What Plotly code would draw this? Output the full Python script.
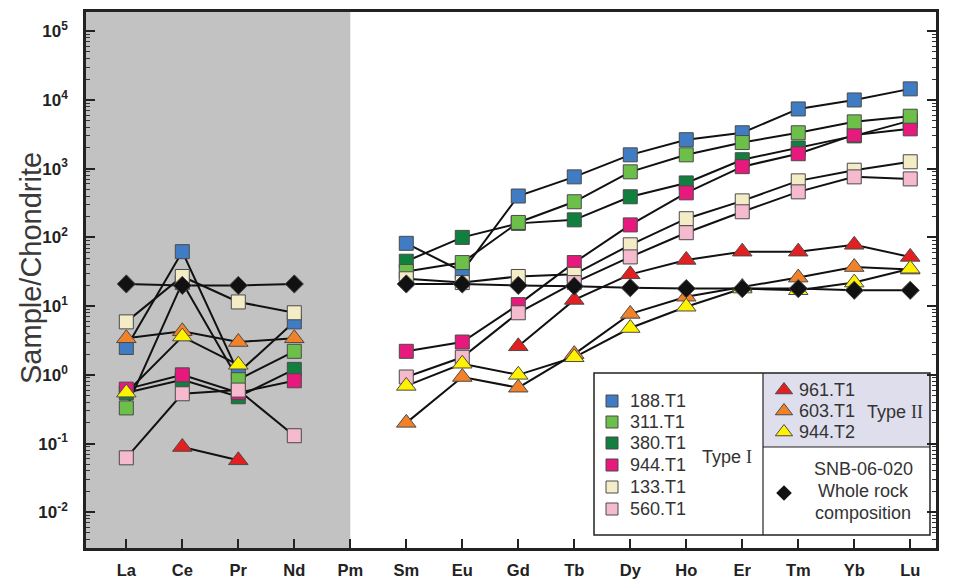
import plotly.graph_objects as go

elements = ["La", "Ce", "Pr", "Nd", "Pm", "Sm", "Eu", "Gd", "Tb", "Dy", "Ho", "Er", "Tm", "Yb", "Lu"]

s188_T1 = [2.5, 62, 1.07, 5.9, None, 82, 32, 400, 760, 1590, 2640, 3330, 7400, 10000, 14500]
s311_T1 = [0.33, 22, 0.85, 2.2, None, 32, 43, 165, 330, 900, 1590, 2400, 3330, 4800, 5800]
s380_T1 = [0.55, 0.85, 0.48, 1.2, None, 45, 100, 160, 180, 390, 620, 1350, 2000, 3000, 5000]
s944_T1 = [0.62, 1.0, 0.55, 0.82, None, 2.2, 3.0, 10.5, 43, 152, 445, 1070, 1650, 3100, 3800]
s133_T1 = [5.9, 27, 11.5, 8, None, 25, 22, 27, 29, 78, 187, 340, 665, 950, 1260]
s560_T1 = [0.062, 0.53, 0.6, 0.13, None, 0.93, 1.8, 8, 22, 52, 117, 236, 460, 760, 710]
s961_T1 = [None, 0.089, 0.057, None, None, None, None, 2.6, 12.3, 29, 47, 62, 62, 78, 52]
s603_T1 = [3.4, 4.3, 3.0, 3.4, None, 0.2, 0.93, 0.65, 2.0, 7.7, 13.7, 19, 26, 37, 34]
s944_T2 = [0.55, 3.6, 1.4, None, None, 0.69, 1.45, 1.0, 1.8, 4.8, 9.8, 18, 17, 22, 35]
whole_rock = [21, 20, 20, 21, None, 21, 21, 20, 19.5, 18.5, 18, 18, 18, 17, 17]

y_tick_vals = [1e-2, 1e-1, 1e0, 1e1, 1e2, 1e3, 1e4, 1e5]
y_tick_text = ["<b>10<sup>-2</sup></b>", "<b>10<sup>-1</sup></b>", "<b>10<sup>0</sup></b>",
               "<b>10<sup>1</sup></b>", "<b>10<sup>2</sup></b>", "<b>10<sup>3</sup></b>",
               "<b>10<sup>4</sup></b>", "<b>10<sup>5</sup></b>"]

series = [
    ("380.T1", s380_T1, "square", "#11803f", 14),
    ("944.T1", s944_T1, "square", "#e8197d", 14),
    ("188.T1", s188_T1, "square", "#3f7cc4", 14),
    ("311.T1", s311_T1, "square", "#6cc04a", 14),
    ("133.T1", s133_T1, "square", "#f3ecc6", 14),
    ("560.T1", s560_T1, "square", "#f5bacd", 14),
    ("961.T1", s961_T1, "triangle-up", "#e3201f", 17),
    ("603.T1", s603_T1, "triangle-up", "#f2822a", 17),
    ("944.T2", s944_T2, "triangle-up", "#fff200", 17),
    ("SNB-06-020", whole_rock, "diamond", "#111111", 14),
]

xs = list(range(len(elements)))
fig = go.Figure()

# lines first
for name, vals, sym, col, sz in series:
    fig.add_trace(go.Scatter(x=xs, y=vals, mode="lines", line=dict(color="#111111", width=2),
                             connectgaps=False, showlegend=False, hoverinfo="skip"))
# markers on top
for name, vals, sym, col, sz in series:
    fig.add_trace(go.Scatter(x=xs, y=vals, mode="markers", name=name,
                             marker=dict(symbol=sym, size=sz, color=col,
                                         line=dict(color="#4a4a4a", width=1)),
                             showlegend=False))

# Page body has an 8px margin; screen-pixel plot area below
OFF = 8
W, H = 954 - OFF, 579 - OFF
L = 86; R = 936; T = 12; B = 548

leg_sq = [("188.T1", "#3f7cc4", 401), ("311.T1", "#6cc04a", 422), ("380.T1", "#11803f", 443),
          ("944.T1", "#e8197d", 465), ("133.T1", "#f3ecc6", 487), ("560.T1", "#f5bacd", 509)]
leg_tri = [("961.T1", "#e3201f", 390), ("603.T1", "#f2822a", 411), ("944.T2", "#fff200", 432)]

fig.add_trace(go.Scatter(x=[612] * len(leg_sq), y=[r[2] for r in leg_sq], mode="markers",
                         xaxis="x2", yaxis="y2", showlegend=False, hoverinfo="skip",
                         marker=dict(symbol="square", size=12, color=[r[1] for r in leg_sq],
                                     line=dict(color="#4a4a4a", width=1))))
fig.add_trace(go.Scatter(x=[784] * len(leg_tri), y=[r[2] for r in leg_tri], mode="markers",
                         xaxis="x2", yaxis="y2", showlegend=False, hoverinfo="skip",
                         marker=dict(symbol="triangle-up", size=15, color=[r[1] for r in leg_tri],
                                     line=dict(color="#4a4a4a", width=1))))
fig.add_trace(go.Scatter(x=[784], y=[493], mode="markers", xaxis="x2", yaxis="y2",
                         showlegend=False, hoverinfo="skip",
                         marker=dict(symbol="diamond", size=12, color="#111111")))

shapes = [
    dict(type="rect", xref="x", yref="paper", x0=-0.72, x1=4, y0=0, y1=1,
         fillcolor="#c2c2c2", line=dict(width=0), layer="below"),
    dict(type="rect", xref="x2", yref="y2", x0=594, x1=930, y0=373, y1=535,
         fillcolor="white", line=dict(width=0), layer="below"),
    dict(type="rect", xref="x2", yref="y2", x0=763, x1=930, y0=373, y1=447,
         fillcolor="#dedeed", line=dict(width=0), layer="below"),
    dict(type="rect", xref="x2", yref="y2", x0=594, x1=930, y0=373, y1=535,
         fillcolor="rgba(0,0,0,0)", line=dict(color="#222222", width=1.5)),
    dict(type="line", xref="x2", yref="y2", x0=763, x1=763, y0=373, y1=535,
         line=dict(color="#222222", width=1.2)),
    dict(type="line", xref="x2", yref="y2", x0=763, x1=930, y0=447, y1=447,
         line=dict(color="#222222", width=1.2)),
]

font_leg = dict(family="Liberation Sans, Arial", size=18, color="#333333")
annotations = []
for name, col, yy in leg_sq:
    annotations.append(dict(x=628, y=yy, xref="x2", yref="y2", text=name, showarrow=False,
                            xanchor="left", yanchor="middle", font=font_leg))
for name, col, yy in leg_tri:
    annotations.append(dict(x=797, y=yy, xref="x2", yref="y2", text=name, showarrow=False,
                            xanchor="left", yanchor="middle", font=font_leg))
annotations += [
    dict(x=727, y=457, xref="x2", yref="y2", showarrow=False, font=font_leg,
         text="Type <span style='font-family:Liberation Serif'>I</span>"),
    dict(x=895, y=412, xref="x2", yref="y2", showarrow=False, font=font_leg,
         text="Type <span style='font-family:Liberation Serif'>II</span>"),
    dict(x=863, y=469, xref="x2", yref="y2", showarrow=False, font=font_leg, text="SNB-06-020"),
    dict(x=863, y=491, xref="x2", yref="y2", showarrow=False, font=font_leg, text="Whole rock"),
    dict(x=863, y=513, xref="x2", yref="y2", showarrow=False, font=font_leg, text="composition"),
    dict(x=(31 - L) / (R - L), y=(B - 268) / (B - T), xref="paper", yref="paper", showarrow=False,
         textangle=-90, xanchor="center", yanchor="middle",
         text="Sample/Chondrite", font=dict(family="Liberation Sans, Arial", size=29, color="#3a3a3a")),
]

minor_vals = [m * 10 ** e for e in range(-3, 6) for m in range(2, 10)]

fig.update_layout(
    width=W, height=H,
    margin=dict(l=L - OFF, r=W - (R - OFF), t=T - OFF, b=H - (B - OFF), pad=0, autoexpand=False),
    paper_bgcolor="white", plot_bgcolor="white",
    shapes=shapes, annotations=annotations,
    showlegend=False,
    xaxis=dict(range=[-0.72, 14.46], tickvals=xs, ticktext=["<b>%s</b>" % e for e in elements],
               ticks="inside", ticklen=9, tickwidth=1.5, tickcolor="#222222",
               showline=True, linecolor="#222222", linewidth=2.5, mirror=True,
               showgrid=False, zeroline=False, ticklabelstandoff=5, automargin=False,
               tickfont=dict(family="Liberation Sans Narrow, Liberation Sans, Arial", size=16.5, color="#222222")),
    yaxis=dict(type="log", range=[-2.52, 5.28], tickvals=y_tick_vals, ticktext=y_tick_text,
               ticks="inside", ticklen=9, tickwidth=1.5, tickcolor="#222222",
               minor=dict(tickvals=minor_vals, ticks="inside", ticklen=4, tickwidth=1, tickcolor="#333333"),
               showline=True, linecolor="#222222", linewidth=2.5, mirror="ticks",
               showgrid=False, zeroline=False, ticklabelstandoff=12, automargin=False,
               tickfont=dict(family="Liberation Sans, Arial", size=17, color="#222222")),
    xaxis2=dict(range=[L, R], overlaying="x", visible=False, fixedrange=True, automargin=False),
    yaxis2=dict(range=[B, T], overlaying="y", visible=False, fixedrange=True, automargin=False),
)

fig.write_html("out.html")
